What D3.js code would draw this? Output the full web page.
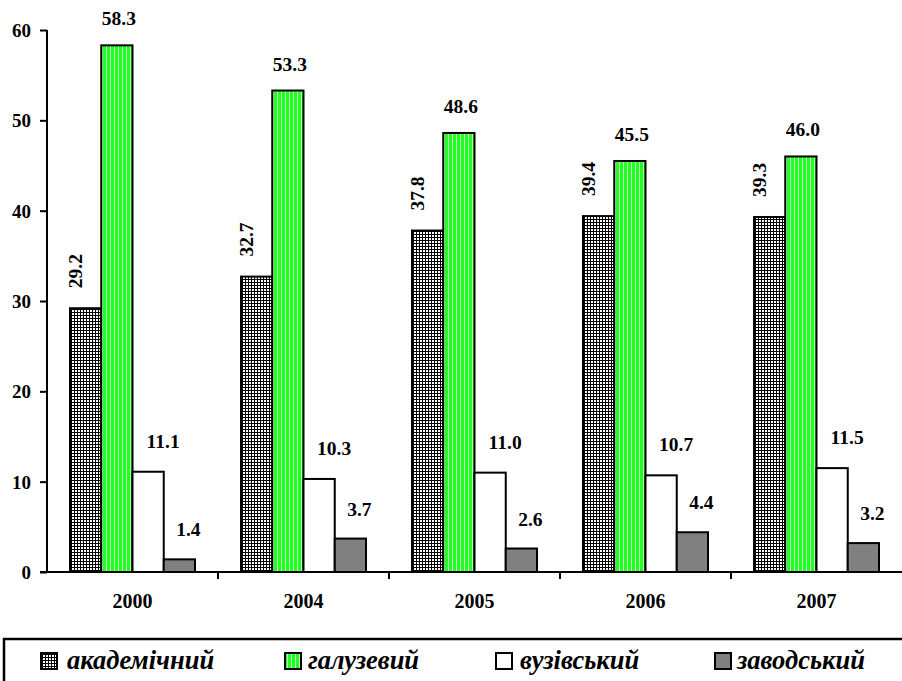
<!DOCTYPE html>
<html><head><meta charset="utf-8">
<script src="https://cdn.jsdelivr.net/npm/d3@7"></script>
<style>
body{margin:0;background:#fff}svg{display:block}
svg text{font-family:"Liberation Serif","Times New Roman",Times,serif;font-weight:bold;fill:#000}
</style>
</head><body>
<svg id="c" width="902" height="681"></svg>
<script>
const years = ["2000","2004","2005","2006","2007"];
const seriesNames = ["академічний","галузевий","вузівський","заводський"];
const academic = [29.2, 32.7, 37.8, 39.4, 39.3];
const branch = [58.3, 53.3, 48.6, 45.5, 46.0];
const university = [11.1, 10.3, 11.0, 10.7, 11.5];
const factory = [1.4, 3.7, 2.6, 4.4, 3.2];
const yTicks = [0,10,20,30,40,50,60];

const seriesValues = [academic, branch, university, factory];
const fills = ["url(#pAcad)","url(#pGreen)","#ffffff","#808080"];
const labelDx = [-11, 2, 15, 9];
const labelDy = [-20, -20, -24, -23];

const svg = d3.select("#c");
const defs = svg.append("defs");
const pa = defs.append("pattern").attr("id","pAcad").attr("width",3).attr("height",3).attr("patternUnits","userSpaceOnUse");
pa.append("rect").attr("width",3).attr("height",3).attr("fill","#000");
pa.append("rect").attr("x",1).attr("y",1).attr("width",2).attr("height",2).attr("fill","#fff");
const pg = defs.append("pattern").attr("id","pGreen").attr("width",4).attr("height",4).attr("patternUnits","userSpaceOnUse");
pg.append("rect").attr("width",4).attr("height",4).attr("fill","#22ff22");
pg.append("rect").attr("x",3).attr("width",1).attr("height",4).attr("fill","#bbffbb");

const x0 = d3.scaleBand().domain(years).range([47,902]).paddingInner(0).paddingOuter(0);
const x1 = d3.scaleBand().domain(d3.range(4)).range([23, 148]);
const y = d3.scaleLinear().domain([0,60]).range([572,30]);

years.forEach((yr,i)=>{
  const g = svg.append("g").attr("transform",`translate(${x0(yr)},0)`);
  seriesValues.forEach((vals,s)=>{
    const v = vals[i];
    g.append("rect").attr("x",x1(s)).attr("y",y(v)).attr("width",x1.bandwidth()).attr("height",y(0)-y(v))
      .attr("fill",fills[s]).attr("stroke","#000").attr("stroke-width",2);
    const cx = x1(s)+x1.bandwidth()/2+labelDx[s];
    const ty = y(v)+labelDy[s];
    const t = g.append("text").text(v.toFixed(1)).style("font-size","19.5px");
    if(s===0){
      t.attr("transform",`translate(${cx+7},${ty}) rotate(-90)`).attr("text-anchor","start");
    } else {
      t.attr("x",cx).attr("y",ty).attr("text-anchor","middle");
    }
  });
});

const yAxis = d3.axisLeft(y).tickValues(yTicks).tickSize(7).tickFormat(d3.format("d"));
const ya = svg.append("g").attr("transform","translate(47,0)").call(yAxis);
ya.attr("font-family",null).attr("font-size",null);
ya.select(".domain").attr("stroke","#000").attr("stroke-width",2).attr("d","M0,30V572");
ya.selectAll(".tick line").attr("stroke","#000").attr("stroke-width",2);
ya.selectAll(".tick text").style("font-size","19px").attr("x",-16).attr("dy","0.35em");

const xa = svg.append("g").attr("transform","translate(0,572)");
xa.append("line").attr("x1",40).attr("x2",902).attr("stroke","#000").attr("stroke-width",2);
years.forEach((yr,i)=>{
  if(i>0) xa.append("line").attr("x1",x0(yr)).attr("x2",x0(yr)).attr("y1",0).attr("y2",7).attr("stroke","#000").attr("stroke-width",2);
  xa.append("text").text(yr).attr("x",x0(yr)+x0.bandwidth()/2).attr("y",36).attr("text-anchor","middle")
    .style("font-size","20px");
});

svg.append("rect").attr("x",4).attr("y",639).attr("width",1000).attr("height",100).attr("fill","#fff").attr("stroke","#000").attr("stroke-width",2.5);
const legSq = [41, 285, 496, 715];
const legTx = [67, 308, 520, 737];
seriesNames.forEach((n,s)=>{
  svg.append("rect").attr("x",legSq[s]).attr("y",653).attr("width",16).attr("height",16)
    .attr("fill",fills[s]).attr("stroke","#000").attr("stroke-width",2);
  svg.append("text").text(n).attr("x",legTx[s]).attr("y",669)
    .style("font-style","italic").style("font-size","26.5px");
});
</script>
</body></html>
